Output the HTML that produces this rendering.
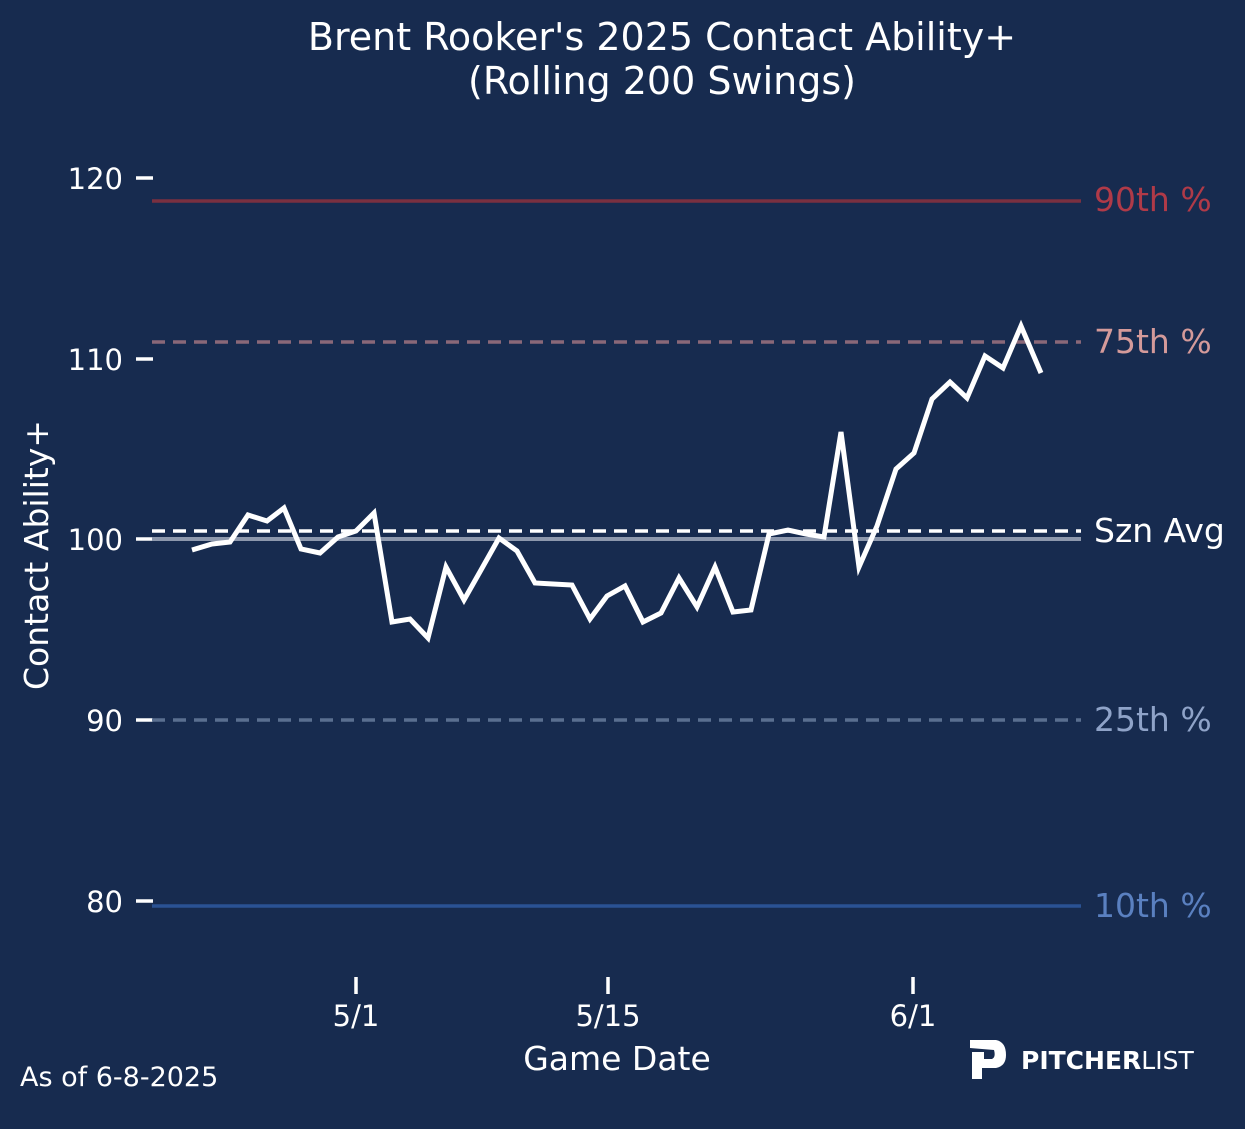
<!DOCTYPE html>
<html><head><meta charset="utf-8"><style>
html,body{margin:0;padding:0;background:#172b4f;}
svg{display:block;font-family:"DejaVu Sans","Liberation Sans",sans-serif;}
</style></head><body>
<svg width="1245" height="1129" viewBox="0 0 1245 1129">
<rect width="1245" height="1129" fill="#172b4f"/>
<text x="662" y="50" fill="#fff" font-size="38" text-anchor="middle">Brent Rooker's 2025 Contact Ability+</text>
<text x="662" y="94" fill="#fff" font-size="38" text-anchor="middle">(Rolling 200 Swings)</text>
<g stroke="#fff" stroke-width="3.5">
<line x1="136" y1="178" x2="153" y2="178"/><line x1="136" y1="359" x2="153" y2="359"/>
<line x1="136" y1="539" x2="153" y2="539"/><line x1="136" y1="720" x2="153" y2="720"/>
<line x1="136" y1="901" x2="153" y2="901"/>
<line x1="356" y1="977" x2="356" y2="994"/><line x1="608" y1="977" x2="608" y2="994"/>
<line x1="913" y1="977" x2="913" y2="994"/>
</g>
<g fill="#fff" font-size="29" text-anchor="end">
<text x="123" y="189">120</text><text x="123" y="370">110</text><text x="123" y="550">100</text>
<text x="123" y="731">90</text><text x="123" y="912">80</text>
</g>
<g fill="#fff" font-size="29" text-anchor="middle">
<text x="356" y="1026">5/1</text><text x="608" y="1026">5/15</text><text x="913" y="1026">6/1</text>
</g>
<text x="617" y="1070" fill="#fff" font-size="33" text-anchor="middle">Game Date</text>
<text transform="translate(48,555) rotate(-90)" fill="#fff" font-size="33" text-anchor="middle">Contact Ability+</text>
<line x1="152" y1="201" x2="1081" y2="201" stroke="#7a3040" stroke-width="3.5"/>
<line x1="152" y1="342" x2="1081" y2="342" stroke="#8a6878" stroke-width="3.5" stroke-dasharray="13,8"/>
<line x1="152" y1="539" x2="1081" y2="539" stroke="#8d98ad" stroke-width="4"/>
<line x1="152" y1="531" x2="1081" y2="531" stroke="#fff" stroke-width="3.5" stroke-dasharray="13,8"/>
<line x1="152" y1="720" x2="1081" y2="720" stroke="#5a6f90" stroke-width="3.5" stroke-dasharray="13,8"/>
<line x1="152" y1="906" x2="1081" y2="906" stroke="#2a5294" stroke-width="3.5"/>
<text x="1094" y="211" fill="#b03a48" font-size="33">90th %</text>
<text x="1094" y="353" fill="#d49a9a" font-size="33">75th %</text>
<text x="1094" y="542" fill="#fff" font-size="33">Szn Avg</text>
<text x="1094" y="731" fill="#8fa3c8" font-size="33">25th %</text>
<text x="1094" y="917" fill="#5a80c0" font-size="33">10th %</text>
<polyline fill="none" stroke="#fff" stroke-width="5" stroke-linejoin="miter" points="192,550 212,544 230,542 248,515 267,521 284,508 301,549 320,553 338,537 356,531 374,513 392,622 410,619 428,638 446,567 464,600 481,570 499,538 517,551 535,583 553,584 572,585 590,619 607,596 625,586 643,622 661,613 679,578 697,607 715,567 733,612 751,610 769,534 788,530 806,534 824,537 841,432 859,567 877,526 896,469 914,453 932,399 950,382 967,398 985,356 1003,368 1021,326 1041,373"/>
<text x="20" y="1086" fill="#fff" font-size="27">As of 6-8-2025</text>
<path d="M970,1040 L996,1040 Q1006,1042 1006,1055 Q1006,1066 996,1068 L982,1068 L982,1079 L972,1079 L972,1052 L984,1052 L984,1059 L992,1059 Q996,1057 994,1050 L970,1048 Z" fill="#fff"/>
<text x="1021" y="1069" fill="#fff" font-size="25" font-weight="bold">PITCHER<tspan font-weight="normal">LIST</tspan></text>
</svg>
</body></html>
